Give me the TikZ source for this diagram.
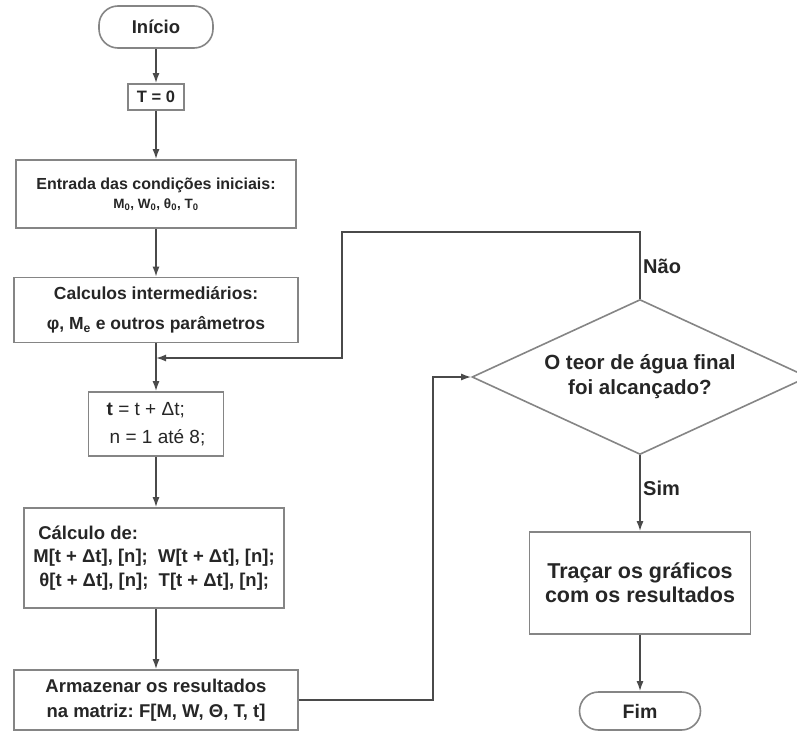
\documentclass[tikz,border=0pt]{standalone}
\usepackage{fontspec}
\setmainfont{Liberation Sans}
\usetikzlibrary{arrows.meta,shapes.geometric}
\definecolor{boxline}{HTML}{858585}
\definecolor{conn}{HTML}{4A4A4A}
\definecolor{txt}{HTML}{262626}
\begin{document}
\begin{tikzpicture}[x=1pt,y=-1pt,
  box/.style={draw=boxline,line width=1.6pt,rectangle,inner sep=0pt,align=center,text=txt,font=\bfseries\fontsize{13}{18}\selectfont},
  term/.style={box,rounded corners=19pt},
  decision/.style={draw=boxline,line width=1.6pt,diamond,aspect=2.17,inner sep=0pt,minimum width=336pt,minimum height=155pt,align=center,text=txt,font=\bfseries\fontsize{20.5}{25}\selectfont},
  conline/.style={draw=conn,line width=1.6pt},
  arr/.style={conline,-{Latex[length=10pt,width=7pt]}},
  lbl/.style={text=txt,font=\bfseries\fontsize{20}{22}\selectfont,inner sep=0pt}]
\useasboundingbox (0,0) rectangle (797,733);
\fill[white] (0,0) rectangle (797,733);

\node[term,minimum width=114pt,minimum height=42pt,font=\bfseries\fontsize{18.5}{20}\selectfont] (ini) at (156,27) {Início};
\node[box,minimum width=56pt,minimum height=26pt,font=\bfseries\fontsize{16.5}{18}\selectfont] (t0) at (156,97) {T = 0};
\node[box,minimum width=280pt,minimum height=68pt,font=\bfseries\fontsize{16}{20}\selectfont] (ent) at (156,194)
  {Entrada das condições iniciais:\\[-1pt]{\fontsize{13.5}{14}\selectfont M\textsubscript{0}, W\textsubscript{0}, θ\textsubscript{0}, T\textsubscript{0}}};
\node[box,minimum width=284pt,minimum height=65pt,font=\bfseries\fontsize{17.5}{30}\selectfont] (calc) at (156,310)
  {Calculos intermediários:\\φ, M\textsubscript{e} e outros parâmetros};
\node[box,minimum width=135pt,minimum height=64pt,align=left,font=\fontsize{19}{28}\selectfont] (tb) at (156,424)
  {\textbf{t} = t + Δt;\\\hspace{3pt}n = 1 até 8;};
\node[box,minimum width=260pt,minimum height=100pt,align=left,font=\bfseries\fontsize{18.5}{23.5}\selectfont] (cd) at (154,558)
  {\hspace{5pt}Cálculo de:\\M[t + Δt], [n];\ \ W[t + Δt], [n];\\\hspace{6pt}θ[t + Δt], [n];\ \ T[t + Δt], [n];};
\node[box,minimum width=284pt,minimum height=60pt,font=\bfseries\fontsize{18.5}{25}\selectfont] (arm) at (156,700)
  {Armazenar os resultados\\na matriz:\ F[M, W, Θ, T, t]};

\node[decision] (dec) at (640,377) {O teor de água final\\foi alcançado?};
\node[box,minimum width=221pt,minimum height=102pt,font=\bfseries\fontsize{21.5}{24}\selectfont] (tr) at (640,583)
  {Traçar os gráficos\\com os resultados};
\node[term,minimum width=121pt,minimum height=38pt,font=\bfseries\fontsize{19.5}{20}\selectfont] (fim) at (640,711) {Fim};

\node[lbl,anchor=west] (nao) at (643,266) {Não};
\node[lbl,anchor=west] (sim) at (643,488) {Sim};

\coordinate (m) at (156,358);
\coordinate (topc) at (342,232);
\coordinate (botc) at (433,377);

\draw[arr] (ini) -- (t0);
\draw[arr] (t0) -- (ent);
\draw[arr] (ent) -- (calc);
\draw[arr] (calc) -- (tb);
\draw[arr] (tb) -- (tb |- cd.north);
\draw[arr] (cd.south -| arm.north) -- (arm);
\draw[arr] (dec.north) |- (topc) |- (m);
\draw[arr] (arm.east) -| (botc) -- (dec.west);
\draw[arr] (dec) -- (tr);
\draw[arr] (tr) -- (fim);
\end{tikzpicture}
\end{document}
